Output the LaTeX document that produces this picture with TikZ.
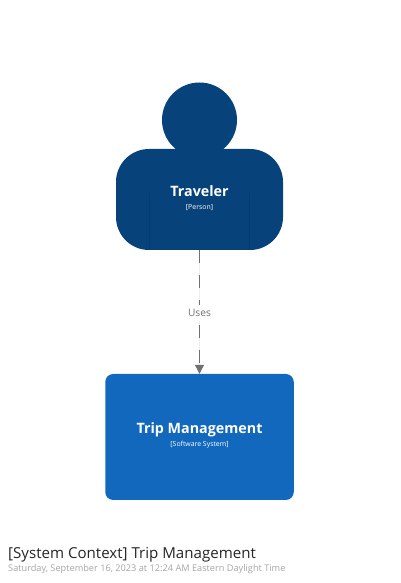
\documentclass[tikz,border=0pt]{standalone}
\usepackage{fontspec}
\setmainfont{Open Sans}
\definecolor{personblue}{HTML}{08427B}
\definecolor{personline}{HTML}{073B6F}
\definecolor{systemblue}{HTML}{1168BD}
\definecolor{linkgrey}{HTML}{707070}
\definecolor{dategrey}{HTML}{A6A6A6}
\usetikzlibrary{arrows.meta}
\tikzset{
  element/.style={inner sep=0pt, rounded corners=#1, align=center, text=white},
  link/.style={draw=linkgrey, fill=linkgrey, line width=0.9pt, dash pattern=on 12.5pt off 12.5pt, -{Triangle[length=9pt,width=9pt]}},
}
\newcommand{\elname}[1]{{\fontsize{14.3}{17}\selectfont\bfseries #1}\\[1pt]}
\newcommand{\eltype}[1]{{\fontsize{6.9}{8}\selectfont #1}}

\begin{document}
\begin{tikzpicture}[x=1pt,y=1pt]
\useasboundingbox (0,0) rectangle (400,583);
\fill[white] (0,0) rectangle (400,583);

\draw (199.5,463) node (head) [circle, fill=personblue, minimum size=75pt, inner sep=0pt] {};
\draw (199.5,383.5) node (traveler) [element=33pt, fill=personblue, minimum width=167pt, minimum height=101pt] {};
\draw (199.5,385) node (travelertext) [element=0pt] {\elname{Traveler}\eltype{[Person]}};
\draw[personline, line width=0.5pt] (149.5,333) -- (149.5,390);
\draw[personline, line width=0.5pt] (249.5,333) -- (249.5,390);

\draw (199.5,146) node (trip) [element=8pt, fill=systemblue, minimum width=188.5pt, minimum height=126pt] {};
\draw (199.5,148) node (triptext) [element=0pt] {\elname{Trip Management}\eltype{[Software System]}};

\draw[link] (traveler.south) -- (trip.north);
\draw (199.5,270) node (uses) [fill=white, inner sep=0pt, minimum width=30pt, minimum height=16pt, text=linkgrey, font=\fontsize{10.2}{12}\selectfont] {Uses};

\draw (8,28.2) node (title) [anchor=west, inner sep=0pt, font=\fontsize{15.1}{18}\selectfont, text=black!85] {[System Context] Trip Management};
\draw (8,13.5) node (date) [anchor=west, inner sep=0pt, font=\fontsize{9.2}{11}\selectfont, text=dategrey] {Saturday, September 16, 2023 at 12:24 AM Eastern Daylight Time};
\end{tikzpicture}
\end{document}
